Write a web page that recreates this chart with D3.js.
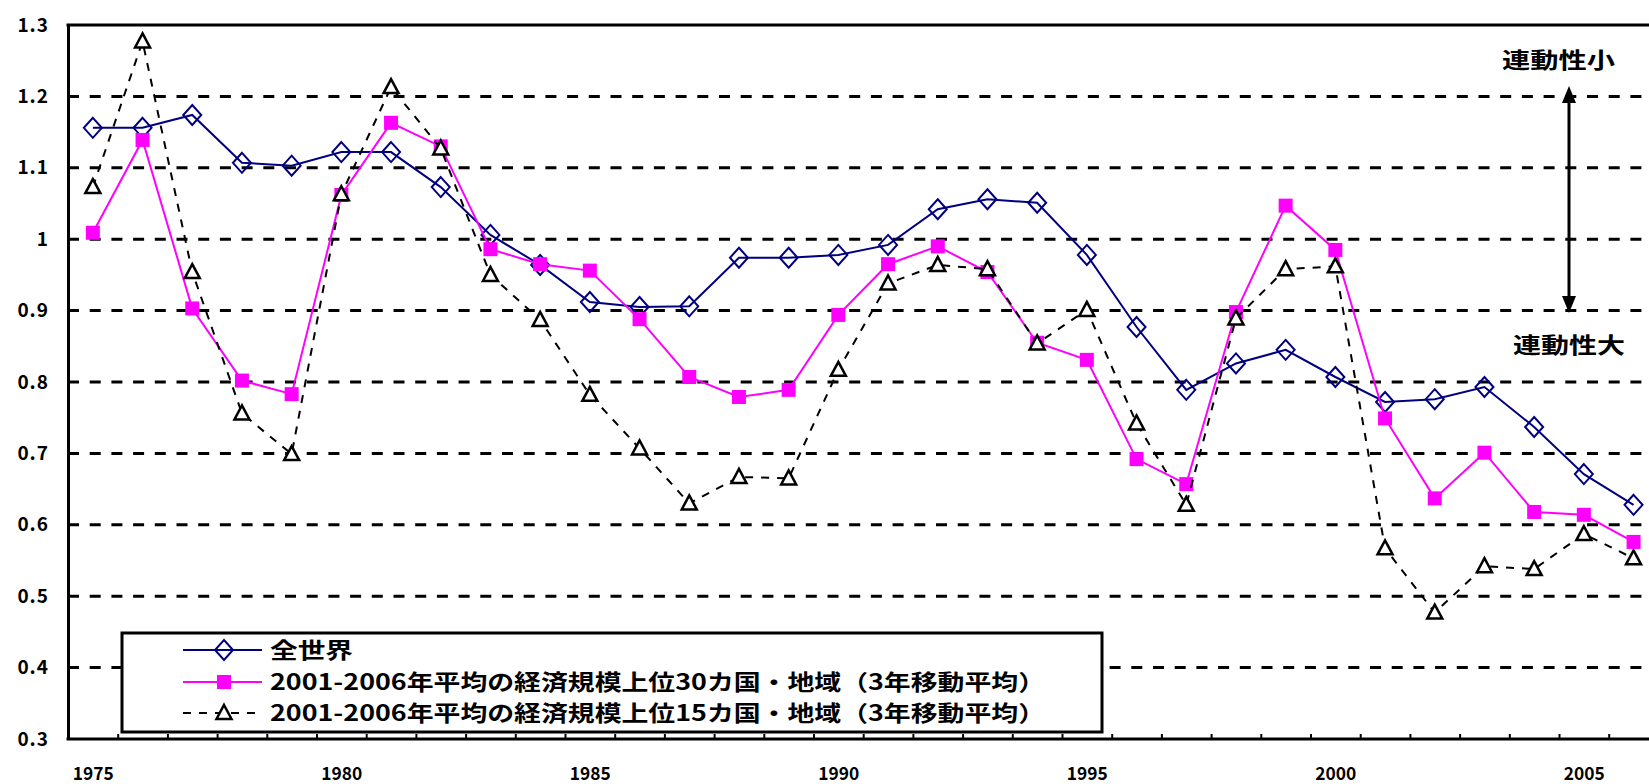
<!DOCTYPE html>
<html>
<head>
<meta charset="utf-8">
<script src="https://cdn.jsdelivr.net/npm/d3@7"></script>
<style>
  body { margin: 0; background: #fff; }
  text { font-family: "Noto Sans CJK JP", "Noto Sans", sans-serif; font-weight: bold; fill: #000; }
</style>
</head>
<body>
<script>
// categories and series
var years = [1975, 1976, 1977, 1978, 1979, 1980, 1981, 1982, 1983, 1984, 1985, 1986, 1987, 1988, 1989, 1990,
             1991, 1992, 1993, 1994, 1995, 1996, 1997, 1998, 1999, 2000, 2001, 2002, 2003, 2004, 2005, 2006];
var world = [1.156, 1.156, 1.174, 1.107, 1.103, 1.122, 1.122, 1.073, 1.006, 0.964, 0.912, 0.905, 0.906, 0.974, 0.974, 0.978,
             0.992, 1.042, 1.056, 1.051, 0.978, 0.877, 0.789, 0.826, 0.845, 0.807, 0.772, 0.776, 0.793, 0.737, 0.671, 0.628];
var top30 = [1.009, 1.139, 0.903, 0.802, 0.783, 1.062, 1.163, 1.130, 0.986, 0.965, 0.956, 0.888, 0.807, 0.779, 0.789, 0.894,
             0.965, 0.990, 0.954, 0.855, 0.831, 0.692, 0.657, 0.898, 1.047, 0.985, 0.749, 0.637, 0.701, 0.618, 0.614, 0.576];
var top15 = [1.073, 1.277, 0.954, 0.756, 0.699, 1.063, 1.213, 1.127, 0.950, 0.887, 0.782, 0.707, 0.630, 0.667, 0.665, 0.817,
             0.938, 0.964, 0.958, 0.854, 0.901, 0.742, 0.628, 0.889, 0.958, 0.962, 0.567, 0.477, 0.542, 0.538, 0.587, 0.553];
var yTicks = [0.3, 0.4, 0.5, 0.6, 0.7, 0.8, 0.9, 1.0, 1.1, 1.2, 1.3];
var yTickLabels = ["0.3", "0.4", "0.5", "0.6", "0.7", "0.8", "0.9", "1", "1.1", "1.2", "1.3"];
var xLabelYears = [1975, 1980, 1985, 1990, 1995, 2000, 2005];
var seriesNames = ["全世界",
                   "2001-2006年平均の経済規模上位30カ国・地域（3年移動平均）",
                   "2001-2006年平均の経済規模上位15カ国・地域（3年移動平均）"];
var sideLabels = ["連動性小", "連動性大"];

(function(){
    var width = 1649, height = 784;
    var left = 68, top = 25, bottom = 739;
    var step = 49.7;
    var right = left + step * years.length;

    var svg = d3.select('body').append('svg')
        .attr('width', width)
        .attr('height', height);

    var x = d3.scalePoint().domain(years).range([left, right]).padding(0.5);
    var xb = d3.scaleLinear().domain([0, years.length]).range([left, right]);
    var y = d3.scaleLinear().domain([0.3, 1.3]).range([bottom, top]);

    // dashed gridlines
    svg.append('g').selectAll('line')
        .data(yTicks.filter(function(d){ return d > 0.31 && d < 1.29; }))
        .enter().append('line')
        .attr('x1', left).attr('x2', width)
        .attr('y1', function(d){ return y(d); })
        .attr('y2', function(d){ return y(d); })
        .attr('stroke', '#000').attr('stroke-width', 3)
        .attr('stroke-dasharray', '11,10.7');

    // top border
    svg.append('line')
        .attr('x1', left - 1.5).attr('x2', width)
        .attr('y1', y(1.3)).attr('y2', y(1.3))
        .attr('stroke', '#000').attr('stroke-width', 3);

    // y axis
    var yAxis = d3.axisLeft(y).tickValues(yTicks)
        .tickFormat(function(d, i){ return yTickLabels[i]; })
        .tickSize(0).tickPadding(19);
    var gy = svg.append('g').attr('transform', 'translate(' + left + ',0)').call(yAxis);
    gy.select('.domain').attr('stroke', '#000').attr('stroke-width', 3);
    gy.selectAll('text')
        .style('font-size', '19px')
        .style('letter-spacing', '1px')
        .attr('font-family', null);

    // x axis ticks (category boundaries, inward)
    var xTickAxis = d3.axisBottom(xb).tickValues(d3.range(years.length + 1))
        .tickSize(-5).tickFormat('');
    var gx = svg.append('g').attr('transform', 'translate(0,' + bottom + ')').call(xTickAxis);
    gx.select('.domain').attr('stroke', '#000').attr('stroke-width', 3)
        .attr('d', 'M' + (left - 1.5) + ',0H' + width);
    gx.selectAll('.tick line').attr('stroke', '#000').attr('stroke-width', 2);

    // x labels
    var xLabAxis = d3.axisBottom(x).tickValues(xLabelYears).tickSize(0).tickPadding(28);
    var gxl = svg.append('g').attr('transform', 'translate(0,' + bottom + ')').call(xLabAxis);
    gxl.select('.domain').remove();
    gxl.selectAll('text')
        .attr('font-family', null)
        .style('font-size', '18px')
        .attr('textLength', 41)
        .attr('lengthAdjust', 'spacingAndGlyphs');

    // series
    var navy = '#000080', pink = '#ff00ff';
    function pts(vals){ return vals.map(function(v, i){ return [x(years[i]), y(v)]; }); }
    var line = d3.line();

    var diamond = 'M0,-10L9,0L0,10L-9,0Z';
    var square = 'M-7,-7H7V7H-7Z';
    var triangle = 'M0,-8L7.5,6H-7.5Z';

    function drawSeries(vals, color, dash, mark, fill, sw){
        var g = svg.append('g');
        g.append('path')
            .attr('d', line(pts(vals)))
            .attr('fill', 'none')
            .attr('stroke', color).attr('stroke-width', 2)
            .attr('stroke-dasharray', dash);
        g.selectAll('path.m').data(pts(vals)).enter().append('path')
            .attr('class', 'm')
            .attr('d', mark)
            .attr('transform', function(d){ return 'translate(' + d[0] + ',' + d[1] + ')'; })
            .attr('fill', fill)
            .attr('stroke', color).attr('stroke-width', sw);
    }
    drawSeries(world, navy, null, diamond, 'none', 2);
    drawSeries(top30, pink, null, square, pink, 0);
    drawSeries(top15, '#000', '8,8', triangle, '#fff', 2.5);

    // legend
    var lg = svg.append('g');
    lg.append('rect')
        .attr('x', 122).attr('y', 633)
        .attr('width', 980).attr('height', 99)
        .attr('fill', '#fff').attr('stroke', '#000').attr('stroke-width', 3);
    var legRows = [
        {y: 650, color: navy, dash: null, mark: diamond, fill: 'none', sw: 2, len: 83},
        {y: 682, color: pink, dash: null, mark: square, fill: pink, sw: 0, len: 775},
        {y: 713, color: '#000', dash: '8,8', mark: triangle, fill: '#fff', sw: 2.5, len: 775}
    ];
    legRows.forEach(function(r, i){
        lg.append('line')
            .attr('x1', 183).attr('x2', 262).attr('y1', r.y).attr('y2', r.y)
            .attr('stroke', r.color).attr('stroke-width', 2)
            .attr('stroke-dasharray', r.dash);
        lg.append('path')
            .attr('d', r.mark)
            .attr('transform', 'translate(224,' + r.y + ')')
            .attr('fill', r.fill).attr('stroke', r.color).attr('stroke-width', r.sw);
        lg.append('text')
            .attr('x', 270).attr('y', r.y + 8)
            .style('font-size', '22px')
            .attr('textLength', r.len)
            .attr('lengthAdjust', 'spacingAndGlyphs')
            .text(seriesNames[i]);
    });

    // side annotation with double arrow
    var ax = 1569, aTop = 86, aBot = 313;
    svg.append('line')
        .attr('x1', ax).attr('x2', ax).attr('y1', aTop + 10).attr('y2', aBot - 10)
        .attr('stroke', '#000').attr('stroke-width', 3);
    svg.append('path')
        .attr('d', 'M' + ax + ',' + aTop + 'l-7,17h14z')
        .attr('fill', '#000');
    svg.append('path')
        .attr('d', 'M' + ax + ',' + aBot + 'l-7,-17h14z')
        .attr('fill', '#000');
    svg.append('text')
        .attr('x', 1502).attr('y', 68)
        .style('font-size', '22px')
        .attr('textLength', 113).attr('lengthAdjust', 'spacingAndGlyphs')
        .text(sideLabels[0]);
    svg.append('text')
        .attr('x', 1513).attr('y', 353)
        .style('font-size', '22px')
        .attr('textLength', 112).attr('lengthAdjust', 'spacingAndGlyphs')
        .text(sideLabels[1]);
})();
</script>
</body>
</html>
